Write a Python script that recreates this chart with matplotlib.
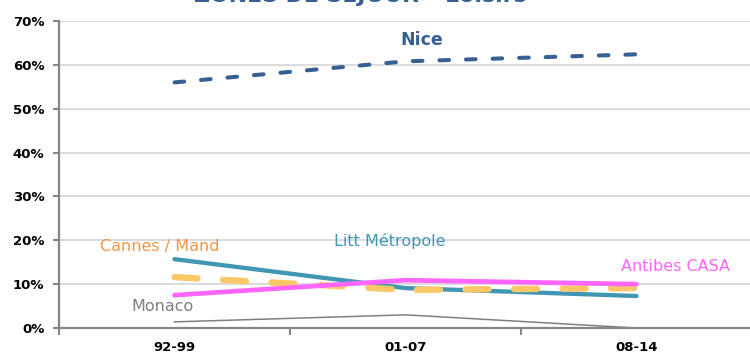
import matplotlib.pyplot as plt

# periods and share of leisure stays (%) per zone
periodes = ['92-99', '01-07', '08-14']
nice = [56.0, 60.8, 62.4]
litt_metropole = [15.7, 9.1, 7.3]
cannes_mand = [11.6, 8.7, 9.1]
antibes_casa = [7.5, 10.9, 10.0]
monaco = [1.4, 3.0, 0.0]

x = list(range(len(periodes)))

fig = plt.figure(figsize=(7.5, 3.54), dpi=100)
ax = fig.add_axes([0.0787, 0.0734, 0.924, 0.8673])

grid_col = '#D9D9D9'
for v in range(10, 71, 10):
    ax.axhline(v, color=grid_col, lw=1.3, zorder=0)

ax.plot(x, monaco, color='#7F7F7F', lw=1.1, zorder=2)
ax.plot(x, litt_metropole, color='#3F97B3', lw=3.1, solid_capstyle='round', zorder=3)
l_cannes, = ax.plot(x, cannes_mand, color='#FCC767', lw=4.6, dash_capstyle='round', zorder=4)
l_cannes.set_dashes((3.6, 4.0))
ax.plot(x, antibes_casa, color='#FF66FF', lw=3.4, solid_capstyle='round', zorder=5)
l_nice, = ax.plot(x, nice, color='#376092', lw=2.9, dash_capstyle='round', zorder=5)
l_nice.set_dashes((2.4, 4.2))

# series labels
ax.text(1.07, 65.6, 'Nice', color='#376092', fontsize=12.5, fontweight='bold',
        ha='center', va='center')
ax.text(0.93, 19.8, 'Litt Métropole', color='#3F97B3', fontsize=11.5,
        ha='center', va='center')
ax.text(-0.063, 18.5, 'Cannes / Mand', color='#F79646', fontsize=11.5,
        ha='center', va='center')
ax.text(2.17, 14.0, 'Antibes CASA', color='#FF66FF', fontsize=11.5,
        ha='center', va='center')
ax.text(-0.05, 4.8, 'Monaco', color='#7F7F7F', fontsize=11.5,
        ha='center', va='center')

ax.set_xlim(-0.5, 2.5)
ax.set_ylim(0, 70)
ax.set_yticks(range(0, 71, 10))
ax.set_yticklabels([f'{v}%' for v in range(0, 71, 10)])
ax.set_xticks(x)
ax.set_xticklabels(periodes)
ax.set_xticks([-0.5, 0.5, 1.5, 2.5], minor=True)
ax.tick_params(axis='x', which='major', length=0, pad=9)
ax.tick_params(axis='x', which='minor', length=5, width=1.5, color='#868686')
ax.tick_params(axis='y', length=4.5, width=1.5, color='#868686', pad=6)
for lab in ax.get_xticklabels() + ax.get_yticklabels():
    lab.set_fontweight('bold')
    lab.set_fontsize(9.5)

for side in ['top', 'right']:
    ax.spines[side].set_visible(False)
for side in ['left', 'bottom']:
    ax.spines[side].set_color('#868686')
    ax.spines[side].set_linewidth(1.6)

fig.text(0.481, 1 - 2 / 354, 'ZONES DE SEJOUR – Loisirs', color='#376092',
         fontsize=15.8, fontweight='bold', ha='center', va='baseline')

fig.savefig('out.png', dpi=100)
